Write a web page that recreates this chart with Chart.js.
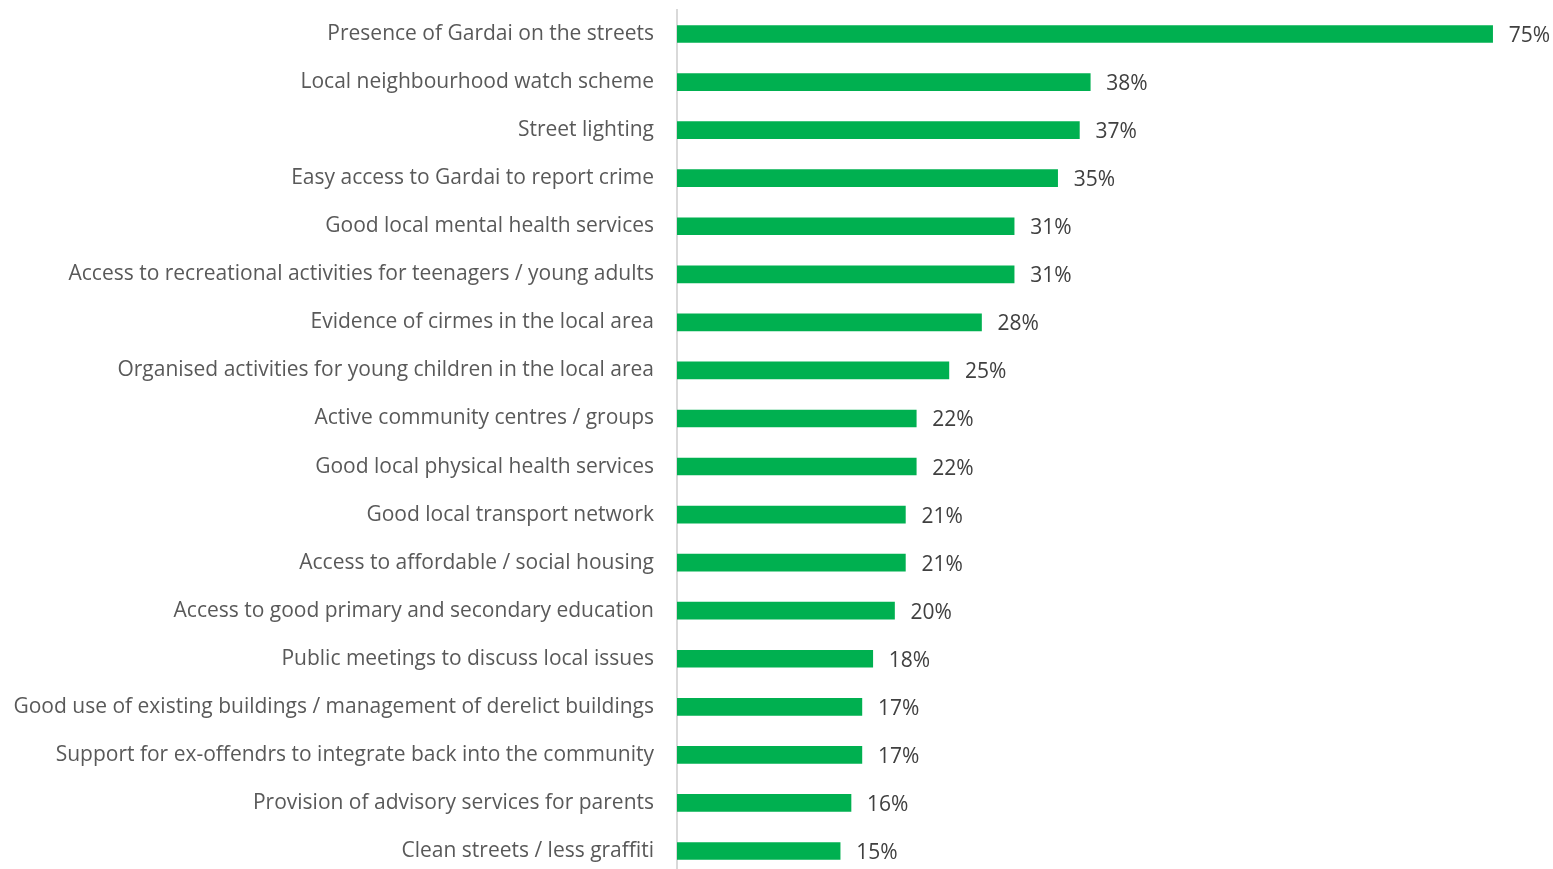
<!DOCTYPE html>
<html>
<head>
<meta charset="utf-8">
<script src="https://cdn.jsdelivr.net/npm/chart.js@4"></script>
<style>
  html, body { margin: 0; padding: 0; background: #fff; overflow: hidden; }
  .plot-container { position: relative; width: 1553px; height: 875px; }
</style>
</head>
<body>
<div class="plot-container">
  <canvas id="myChart"></canvas>
</div>
<script>
const labels = [
  'Presence of Gardai on the streets',
  'Local neighbourhood watch scheme',
  'Street lighting',
  'Easy access to Gardai to report crime',
  'Good local mental health services',
  'Access to recreational activities for teenagers / young adults',
  'Evidence of cirmes in the local area',
  'Organised activities for young children in the local area',
  'Active community centres / groups',
  'Good local physical health services',
  'Good local transport network',
  'Access to affordable / social housing',
  'Access to good primary and secondary education',
  'Public meetings to discuss local issues',
  'Good use of existing buildings / management of derelict buildings',
  'Support for ex-offendrs to integrate back into the community',
  'Provision of advisory services for parents',
  'Clean streets / less graffiti'
];
const percents = [75, 38, 37, 35, 31, 31, 28, 25, 22, 22, 21, 21, 20, 18, 17, 17, 16, 15];

const FONT = '"Open Sans", "Lato", sans-serif';

// writes "NN%" just past the end of each bar
const valueLabels = {
  id: 'valueLabels',
  afterDatasetsDraw(chart) {
    const ctx = chart.ctx;
    const meta = chart.getDatasetMeta(0);
    ctx.save();
    ctx.font = '21px ' + FONT;
    ctx.fillStyle = '#404040';
    ctx.textAlign = 'left';
    ctx.textBaseline = 'middle';
    meta.data.forEach((bar, i) => {
      ctx.fillText(percents[i] + '%', bar.x + 16, bar.y + 2);
    });
    ctx.restore();
  }
};

new Chart(document.getElementById('myChart').getContext('2d'), {
  type: 'bar',
  data: {
    labels: labels,
    datasets: [{
      data: percents,
      backgroundColor: '#00B050',
      borderWidth: 0,
      barThickness: 17
    }]
  },
  options: {
    indexAxis: 'y',
    responsive: true,
    maintainAspectRatio: false,
    animation: false,
    layout: { padding: { top: 10, right: 6, bottom: 0, left: 0 } },
    plugins: {
      legend: { display: false },
      tooltip: { enabled: false }
    },
    scales: {
      x: {
        display: false,
        min: 0,
        max: 80
      },
      y: {
        afterFit(scale) {
          // fixed label column, no extra room reserved above/below the bars
          scale.width = 677;
          scale.paddingTop = 0;
          scale.paddingBottom = 0;
        },
        grid: { display: false, drawTicks: false },
        border: { display: true, color: '#d9d9d9', width: 2 },
        ticks: {
          padding: 23,
          color: '#595959',
          font: { family: FONT, size: 21 }
        }
      }
    }
  },
  plugins: [valueLabels]
});
</script>
</body>
</html>
